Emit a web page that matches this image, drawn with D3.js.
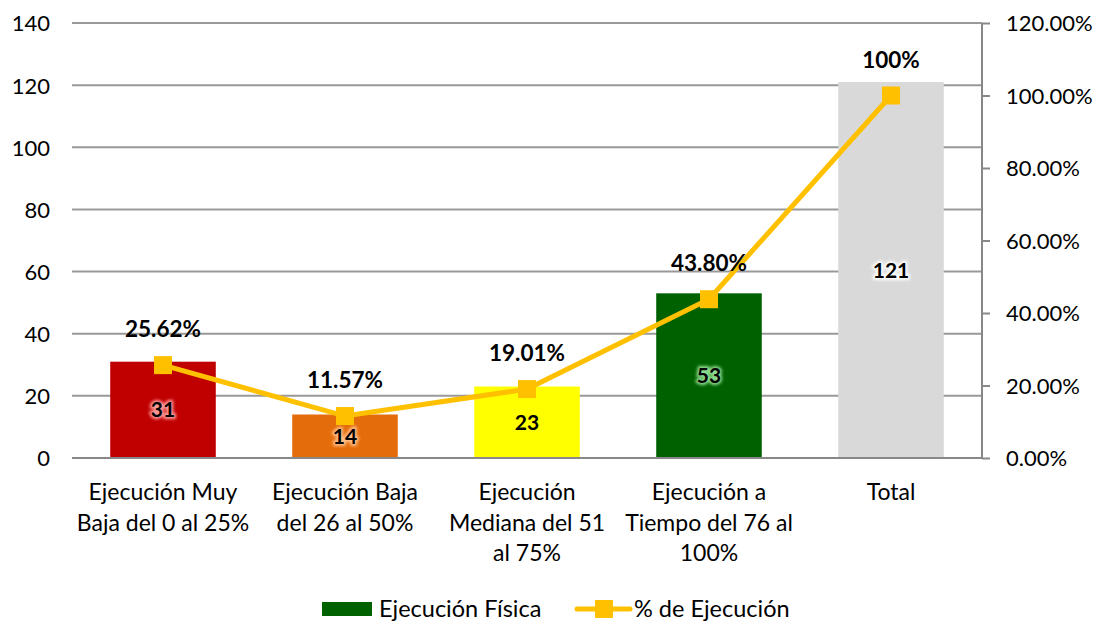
<!DOCTYPE html>
<html>
<head>
<meta charset="utf-8">
<script src="https://cdn.jsdelivr.net/npm/d3@7"></script>
<style>
  body { margin: 0; background: #fff; }
  text { font-family: Lato, "Open Sans", sans-serif; fill: #000; }
</style>
</head>
<body>
<div id="chart"></div>
<script>
// data
var categories = ["c1", "c2", "c3", "c4", "c5"];
var categoryLines = [
  ["Ejecución Muy", "Baja del 0 al 25%"],
  ["Ejecución Baja", "del 26 al 50%"],
  ["Ejecución", "Mediana del 51", "al 75%"],
  ["Ejecución a", "Tiempo del 76 al", "100%"],
  ["Total"]
];
var counts = [31, 14, 23, 53, 121];
var percents = [25.62, 11.57, 19.01, 43.80, 100];
var percentLabels = ["25.62%", "11.57%", "19.01%", "43.80%", "100%"];
var barColors = ["#C00000", "#E46C0A", "#FFFF00", "#006100", "#D9D9D9"];
var glowColors = ["#ff9d9d", "#ffc08a", "#ffff00", "#8fdc8f", "#ffffff"];
var leftTicks = [0, 20, 40, 60, 80, 100, 120, 140];
var rightTicks = [0, 20, 40, 60, 80, 100, 120];
var seriesNames = ["Ejecución Física", "% de Ejecución"];

var W = 1103, H = 622;
var margin = {top: 23, right: 121, bottom: 164, left: 72};
var width = W - margin.left - margin.right;
var height = H - margin.top - margin.bottom;

var svg = d3.select("#chart").append("svg")
    .attr("width", W)
    .attr("height", H);

var defs = svg.append("defs");
var glow = defs.append("filter").attr("id", "glow")
    .attr("x", "-30%").attr("y", "-30%").attr("width", "160%").attr("height", "160%");
glow.append("feGaussianBlur").attr("stdDeviation", 1.8);

var g = svg.append("g").attr("transform", "translate(" + margin.left + "," + margin.top + ")");

var x = d3.scaleBand().domain(categories).range([0, width]).paddingInner(0.42).paddingOuter(0.21);
var y = d3.scaleLinear().domain([0, 140]).range([height, 0]);
var y2 = d3.scaleLinear().domain([0, 120]).range([height, 0]);

// gridlines
g.append("g")
  .selectAll("line")
  .data(leftTicks.filter(function(d){ return d > 0; }))
  .enter().append("line")
  .attr("x1", 0).attr("x2", width)
  .attr("y1", function(d){ return y(d); })
  .attr("y2", function(d){ return y(d); })
  .style("stroke", "#999")
  .style("stroke-width", 2);

// left axis
var yAxis = g.append("g")
  .call(d3.axisLeft(y).tickValues(leftTicks).tickSize(0).tickPadding(22));
yAxis.select(".domain").remove();
yAxis.selectAll("text").style("font-size", "22px").attr("dy", "0.36em");

// right axis
var yAxis2 = g.append("g")
  .attr("transform", "translate(" + width + ",0)")
  .call(d3.axisRight(y2).tickValues(rightTicks).tickSize(8).tickPadding(16)
    .tickFormat(function(d){ return d.toFixed(2) + "%"; }));
yAxis2.select(".domain").attr("d", "M0,0V" + height).style("stroke", "#888").style("stroke-width", 2);
yAxis2.selectAll(".tick line").style("stroke", "#888").style("stroke-width", 2);
yAxis2.selectAll("text").style("font-size", "22px").attr("dy", "0.36em");

// bars
g.selectAll("rect.bar")
  .data(counts)
  .enter().append("rect")
  .attr("class", "bar")
  .attr("x", function(d, i){ return x(categories[i]); })
  .attr("width", x.bandwidth())
  .attr("y", function(d){ return y(d); })
  .attr("height", function(d){ return height - y(d); })
  .style("fill", function(d, i){ return barColors[i]; });

// bottom axis line
g.append("line")
  .attr("x1", 0).attr("x2", width)
  .attr("y1", height).attr("y2", height)
  .style("stroke", "#888").style("stroke-width", 2);

// category labels
var cat = g.append("g").selectAll("text.cat")
  .data(categoryLines)
  .enter().append("text")
  .attr("class", "cat")
  .attr("text-anchor", "middle")
  .style("font-size", "23px")
  .attr("transform", function(d, i){ return "translate(" + (x(categories[i]) + x.bandwidth() / 2) + "," + (height + 42) + ")"; });
cat.selectAll("tspan")
  .data(function(d){ return d; })
  .enter().append("tspan")
  .attr("x", 0)
  .attr("y", function(d, i){ return i * 30.5; })
  .text(function(d){ return d; });

// bar value labels with glow
var vals = g.append("g").selectAll("g.val")
  .data(counts)
  .enter().append("g")
  .attr("class", "val")
  .attr("transform", function(d, i){ return "translate(" + (x(categories[i]) + x.bandwidth() / 2) + "," + (y(d / 2)) + ")"; });
vals.append("text")
  .attr("text-anchor", "middle")
  .attr("dy", "0.36em")
  .style("font-size", "21px")
  .style("font-weight", "bold")
  .style("fill", function(d, i){ return glowColors[i]; })
  .style("stroke", function(d, i){ return glowColors[i]; })
  .style("stroke-width", 4)
  .attr("filter", "url(#glow)")
  .text(function(d){ return d; });
vals.append("text")
  .attr("text-anchor", "middle")
  .attr("dy", "0.36em")
  .style("font-size", "21px")
  .style("font-weight", "bold")
  .text(function(d){ return d; });

// percentage line
var line = d3.line()
  .x(function(d, i){ return x(categories[i]) + x.bandwidth() / 2; })
  .y(function(d){ return y2(d); });

g.append("path")
  .datum(percents)
  .attr("d", line)
  .style("fill", "none")
  .style("stroke", "#FFC000")
  .style("stroke-width", 5);

var ms = 18;
g.selectAll("rect.marker")
  .data(percents)
  .enter().append("rect")
  .attr("class", "marker")
  .attr("x", function(d, i){ return x(categories[i]) + x.bandwidth() / 2 - ms / 2; })
  .attr("y", function(d){ return y2(d) - ms / 2; })
  .attr("width", ms).attr("height", ms)
  .style("fill", "#FFC000");

g.selectAll("text.pct")
  .data(percents)
  .enter().append("text")
  .attr("class", "pct")
  .attr("text-anchor", "middle")
  .attr("x", function(d, i){ return x(categories[i]) + x.bandwidth() / 2; })
  .attr("y", function(d){ return y2(d) - 36; })
  .attr("dy", "0.36em")
  .style("font-size", "22.5px")
  .style("font-weight", "bold")
  .text(function(d, i){ return percentLabels[i]; });

// legend
var legend = svg.append("g").attr("transform", "translate(0,609)");
legend.append("rect")
  .attr("x", 322).attr("y", -7).attr("width", 50).attr("height", 14)
  .style("fill", barColors[3]);
legend.append("text")
  .attr("x", 379).attr("dy", "0.36em")
  .style("font-size", "23.5px")
  .text(seriesNames[0]);
legend.append("line")
  .attr("x1", 577).attr("x2", 630)
  .style("stroke", "#FFC000").style("stroke-width", 5).style("stroke-linecap", "round");
legend.append("rect")
  .attr("x", 604 - ms / 2).attr("y", -ms / 2).attr("width", ms).attr("height", ms)
  .style("fill", "#FFC000");
legend.append("text")
  .attr("x", 634).attr("dy", "0.36em")
  .style("font-size", "23.5px")
  .text(seriesNames[1]);
</script>
</body>
</html>
